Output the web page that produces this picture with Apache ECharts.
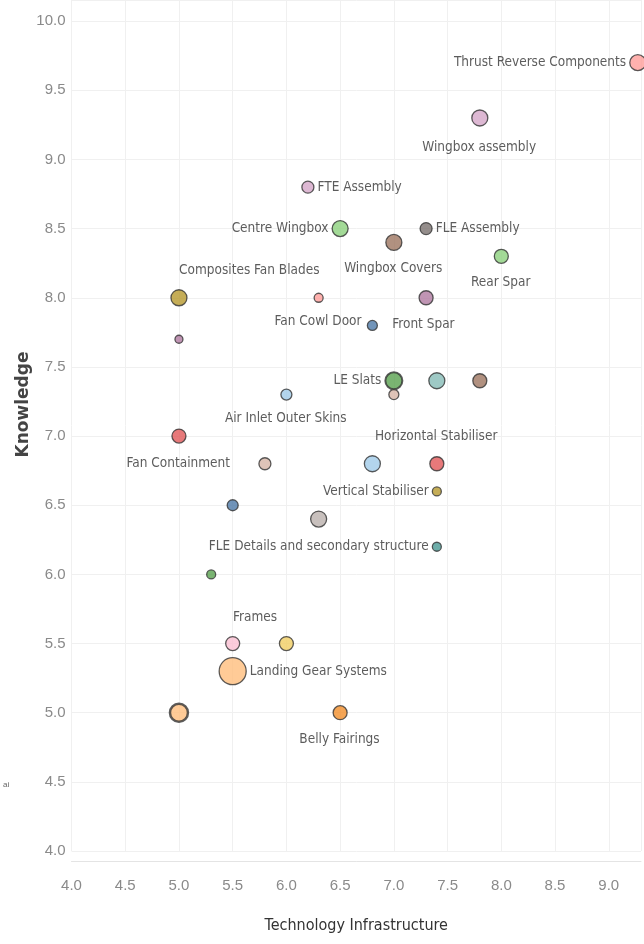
<!DOCTYPE html>
<html><head><meta charset="utf-8">
<script src="https://cdn.jsdelivr.net/npm/echarts@6/dist/echarts.min.js"></script>
<style>html,body{margin:0;padding:0;background:#fff}#c{width:644px;height:944px}</style>
</head><body><div id="c"></div>
<script>
// Data
var names = ["Thrust Reverse Components","Wingbox assembly","FTE Assembly","Centre Wingbox","FLE Assembly","Wingbox Covers","Rear Spar","Composites Fan Blades","Fan Cowl Door","","Front Spar","","LE Slats","","","","Air Inlet Outer Skins","Fan Containment","","Horizontal Stabiliser","","Vertical Stabiliser","","","FLE Details and secondary structure","","Frames","","Landing Gear Systems","","Belly Fairings"];
var techInfra = [9.27,7.8,6.2,6.5,7.3,7.0,8.0,5.0,6.3,6.8,7.3,5.0,7.0,7.0,7.4,7.8,6.0,5.0,5.8,7.4,6.8,7.4,5.5,6.3,7.4,5.3,5.5,6.0,5.5,5.0,6.5];
var knowledge = [9.7,9.3,8.8,8.5,8.5,8.4,8.3,8.0,8.0,7.8,8.0,7.7,7.4,7.3,7.4,7.4,7.3,7.0,6.8,6.8,6.8,6.6,6.5,6.4,6.2,6.0,5.5,5.5,5.3,5.0,5.0];
var xTicks = ["4.0","4.5","5.0","5.5","6.0","6.5","7.0","7.5","8.0","8.5","9.0"];
var yTicks = ["4.0","4.5","5.0","5.5","6.0","6.5","7.0","7.5","8.0","8.5","9.0","9.5","10.0"];

// Styles
var colors = ["#ff9d9a","#d4a6c8","#d4a6c8","#8cd17d","#79706e","#9d7660","#8cd17d","#b6992d","#ff9d9a","#4e79a7","#b07aa1","#b07aa1","#59a14f","#d7b5a6","#86bcb6","#9d7660","#a0cbe8","#e15759","#d7b5a6","#e15759","#a0cbe8","#b6992d","#4e79a7","#bab0ac","#499894","#59a14f","#fabfd2","#f1ce63","#ffbe7d","#ffbe7d","#f28e2b"];
var sizes = [16,16,12,16,12,16,14,16,9,10,14,8,17,10,16,14,11,14,12,14,16,9,11,16,9,9,14,14,27,18,14];
var borders = [1.3,1.3,1.3,1.3,1.3,1.3,1.3,1.3,1.3,1.3,1.3,1.3,2,1.3,1.3,1.3,1.3,1.3,1.3,1.3,1.3,1.3,1.3,1.3,1.3,1.3,1.3,1.3,1.3,2.5,1.3];
// label placement: [position, offsetX, offsetY]
var labelPos = {
  0:["left"],1:["c",0,30],2:["right"],3:["left"],4:["right"],
  5:["c",0,27],6:["c",0,27],7:["c",71,-27],8:["c",0,24],10:["c",-2,27],
  12:["left"],16:["c",0,25],17:["c",0,28],19:["c",0,-27],21:["left"],
  24:["left"],26:["c",23,-25],28:["right"],30:["c",0,27]
};

var FONT = "'DejaVu Sans Condensed','Liberation Sans',sans-serif";
var data = names.map(function(n,i){
  var lp = labelPos[i];
  var s = sizes[i];
  var d = {
    name:n, value:[techInfra[i],knowledge[i]], symbolSize:s,
    itemStyle:{color:colors[i],borderColor:"#333",borderWidth:borders[i]}
  };
  if(lp){
    var lab = {show:true,formatter:n,color:"#333",fontSize:13.5,fontFamily:FONT};
    if(lp[0]==="c"){
      lab.position=[s/2+lp[1], s/2+lp[2]];
      lab.align='center'; lab.verticalAlign='middle';
    } else { lab.position=lp[0]; lab.distance=3; }
    d.label = lab;
  }
  return d;
});

var chart = echarts.init(document.getElementById('c'),null,{renderer:'canvas'});
chart.setOption({
  animation:false,
  grid:{left:71.5,right:0,top:0,bottom:93},
  xAxis:{type:'value',min:4,max:9.30,interval:0.5,offset:10,
    axisLine:{show:true,lineStyle:{color:'#e4e4e4'}},axisTick:{show:false},
    splitLine:{show:true,lineStyle:{color:'#f0f0f0'}},
    axisLabel:{color:'#8a8a8a',fontSize:15,fontFamily:"'Liberation Sans',sans-serif",margin:17,
      formatter:function(v){var s=v.toFixed(1);return xTicks.indexOf(s)>=0?s:'';}},
    name:'Technology Infrastructure',nameLocation:'middle',nameGap:57,nameMoveOverlap:false,
    nameTextStyle:{color:'#333',fontSize:16,fontFamily:FONT}},
  yAxis:{type:'value',min:4,max:10.153,interval:0.5,
    axisLine:{show:false},axisTick:{show:false},
    splitLine:{show:true,lineStyle:{color:'#f0f0f0'}},
    axisLabel:{color:'#8a8a8a',fontSize:15,fontFamily:"'Liberation Sans',sans-serif",margin:6,
      formatter:function(v){var s=v.toFixed(1);return yTicks.indexOf(s)>=0?s:'';}},
    name:'Knowledge',nameLocation:'middle',nameGap:39,nameRotate:90,nameMoveOverlap:false,
    nameTextStyle:{color:'#444',fontSize:17,fontWeight:'bold',fontFamily:"'DejaVu Sans',sans-serif",padding:[0,0,0,42]}},
  graphic:[{type:'text',left:3,top:781,style:{text:'ai',fill:'#666',fontSize:8,fontFamily:"'Liberation Sans',sans-serif"}}],
  series:[{type:'scatter',data:data,labelLayout:{hideOverlap:false}}]
});
</script></body></html>
